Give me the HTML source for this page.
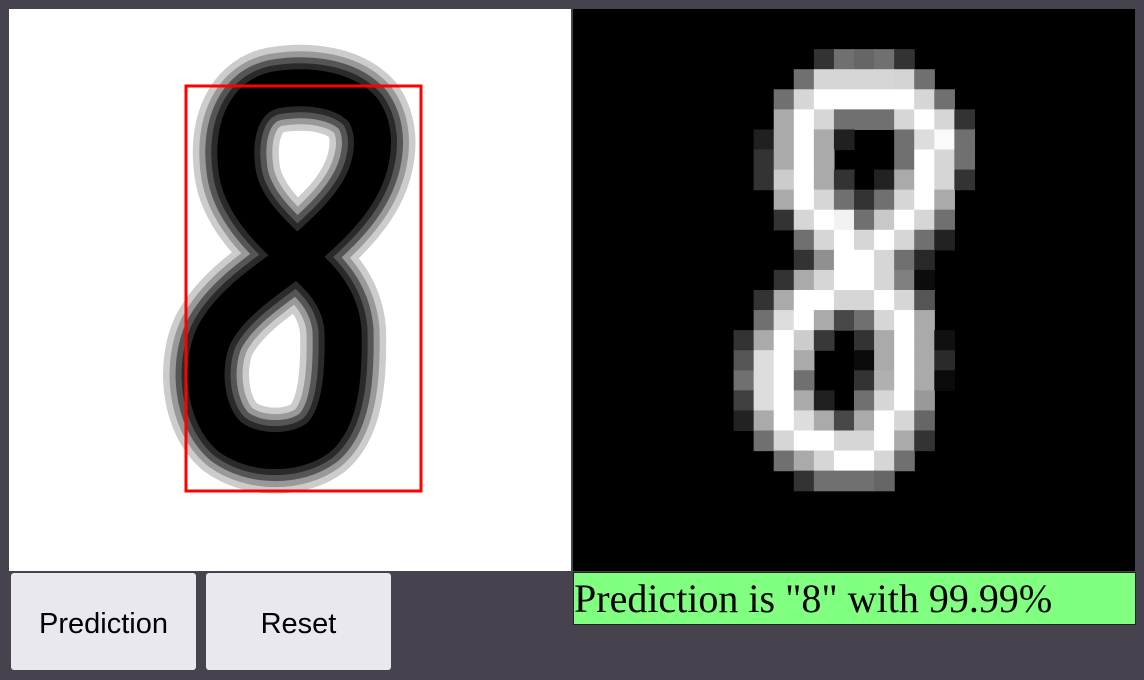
<!DOCTYPE html>
<html><head><meta charset="utf-8"><style>
html,body{margin:0;padding:0;}
body{width:1144px;height:680px;background:#46434f;position:relative;overflow:hidden;font-family:"Liberation Sans",sans-serif;}
#draw{position:absolute;left:9px;top:9px;width:562px;height:562px;background:#fff;}
#grid{position:absolute;left:573px;top:9px;width:562px;height:562px;background:#000;}
.btn{position:absolute;top:573px;height:97px;background:#e9e8ee;border-radius:3px;font-size:29px;color:#000;display:flex;align-items:center;justify-content:center;padding-top:5px;box-sizing:border-box;}
#pred{position:absolute;left:573px;top:572px;width:561px;height:51px;background:#80ff80;border:1px solid #222;font-family:"Liberation Serif",serif;font-size:40px;line-height:51px;white-space:nowrap;}
</style></head><body>
<svg id="draw" width="562" height="562" viewBox="9 9 562 562">
<g fill="none" stroke-linejoin="round" stroke-linecap="round" id="strokes"></g>
<rect x="186" y="86" width="235" height="405" fill="none" stroke="#ff0000" stroke-width="3"/>
</svg>
<svg id="grid" width="562" height="562"></svg>
<div class="btn" style="left:11px;width:185px;">Prediction</div>
<div class="btn" style="left:206px;width:185px;">Reset</div>
<div id="pred">Prediction is "8" with 99.99%</div>
<script>
const strokeD="M297,257 C280,240 242,210 237,170 C232,132 243,97 275,90 C310,84 345,90 363,110 C380,135 372,170 356,195 C340,220 315,240 297,257 C275,275 232,300 214,335 C200,365 204,415 230,437 C255,455 295,455 318,438 C342,418 344,370 343,330 C340,295 318,275 297,257 Z";
const layerColors=["#cccccc","#999999","#555555","#2a2a2a","#000000"];
const layerWidths=[86,73,61,49,37];
const sg=document.getElementById('strokes');
layerColors.forEach((col,i)=>{
  const p=document.createElementNS('http://www.w3.org/2000/svg','path');
  p.setAttribute('d',strokeD);
  p.setAttribute('stroke',col);
  p.setAttribute('stroke-width',layerWidths[i]);
  
  
  sg.appendChild(p);
});
const rowIndex=[2,3,4,5,6,7,8,9,10,11,12,13,14,15,16,17,18,19,20,21,22,23];
const startCol=[12,11,10,10,9,9,9,10,10,11,11,10,9,9,8,8,8,8,8,9,10,11];
const values=[
"33 70 66 70 33",
"70 d6 d6 d6 d6 d4 70",
"70 d6 ff ff ff ff ff d6 70",
"aa ff d6 70 70 70 d6 ff d6 33",
"20 aa ff aa 20 00 00 70 dd fa 70",
"33 aa ff aa 00 00 00 70 ff d6 70",
"33 cc ff aa 33 00 22 aa ff d6 33",
"aa ff d6 70 33 70 d6 ff aa",
"33 d6 ff f2 70 c8 ff d6 70",
"70 d6 ff d6 ff d6 70 22",
"33 90 ff ff d6 70 28",
"33 aa d6 ff ff d6 80 0c",
"33 aa ff ff d6 d6 ff d6 55",
"70 dd ff aa 48 70 d6 ff aa",
"33 aa ff cc 38 00 33 aa ff aa 10",
"55 dd ff aa 00 00 0a aa ff aa 2a",
"70 dd ff 70 00 00 33 b0 ff aa 0a",
"40 dd ff aa 20 00 70 d6 ff 99",
"22 aa ff dd aa 48 aa ff d6 66",
"70 d6 ff ff d6 d6 ff aa 33",
"70 aa d6 ff ff d6 70",
"33 70 70 70 66"
];
const svg=document.getElementById('grid');
const cell=562/28;
rowIndex.forEach((r,i)=>{
  values[i].split(' ').forEach((v,j)=>{
    const n=parseInt(v,16);
    if(n===0)return;
    const rect=document.createElementNS('http://www.w3.org/2000/svg','rect');
    const c=startCol[i]+j;
    rect.setAttribute('x',(c*cell).toFixed(2));
    rect.setAttribute('y',(r*cell).toFixed(2));
    rect.setAttribute('width',(cell+0.6).toFixed(2));
    rect.setAttribute('height',(cell+0.6).toFixed(2));
    rect.setAttribute('fill','rgb('+n+','+n+','+n+')');
    
    
    svg.appendChild(rect);
  });
});
</script>
</body></html>
